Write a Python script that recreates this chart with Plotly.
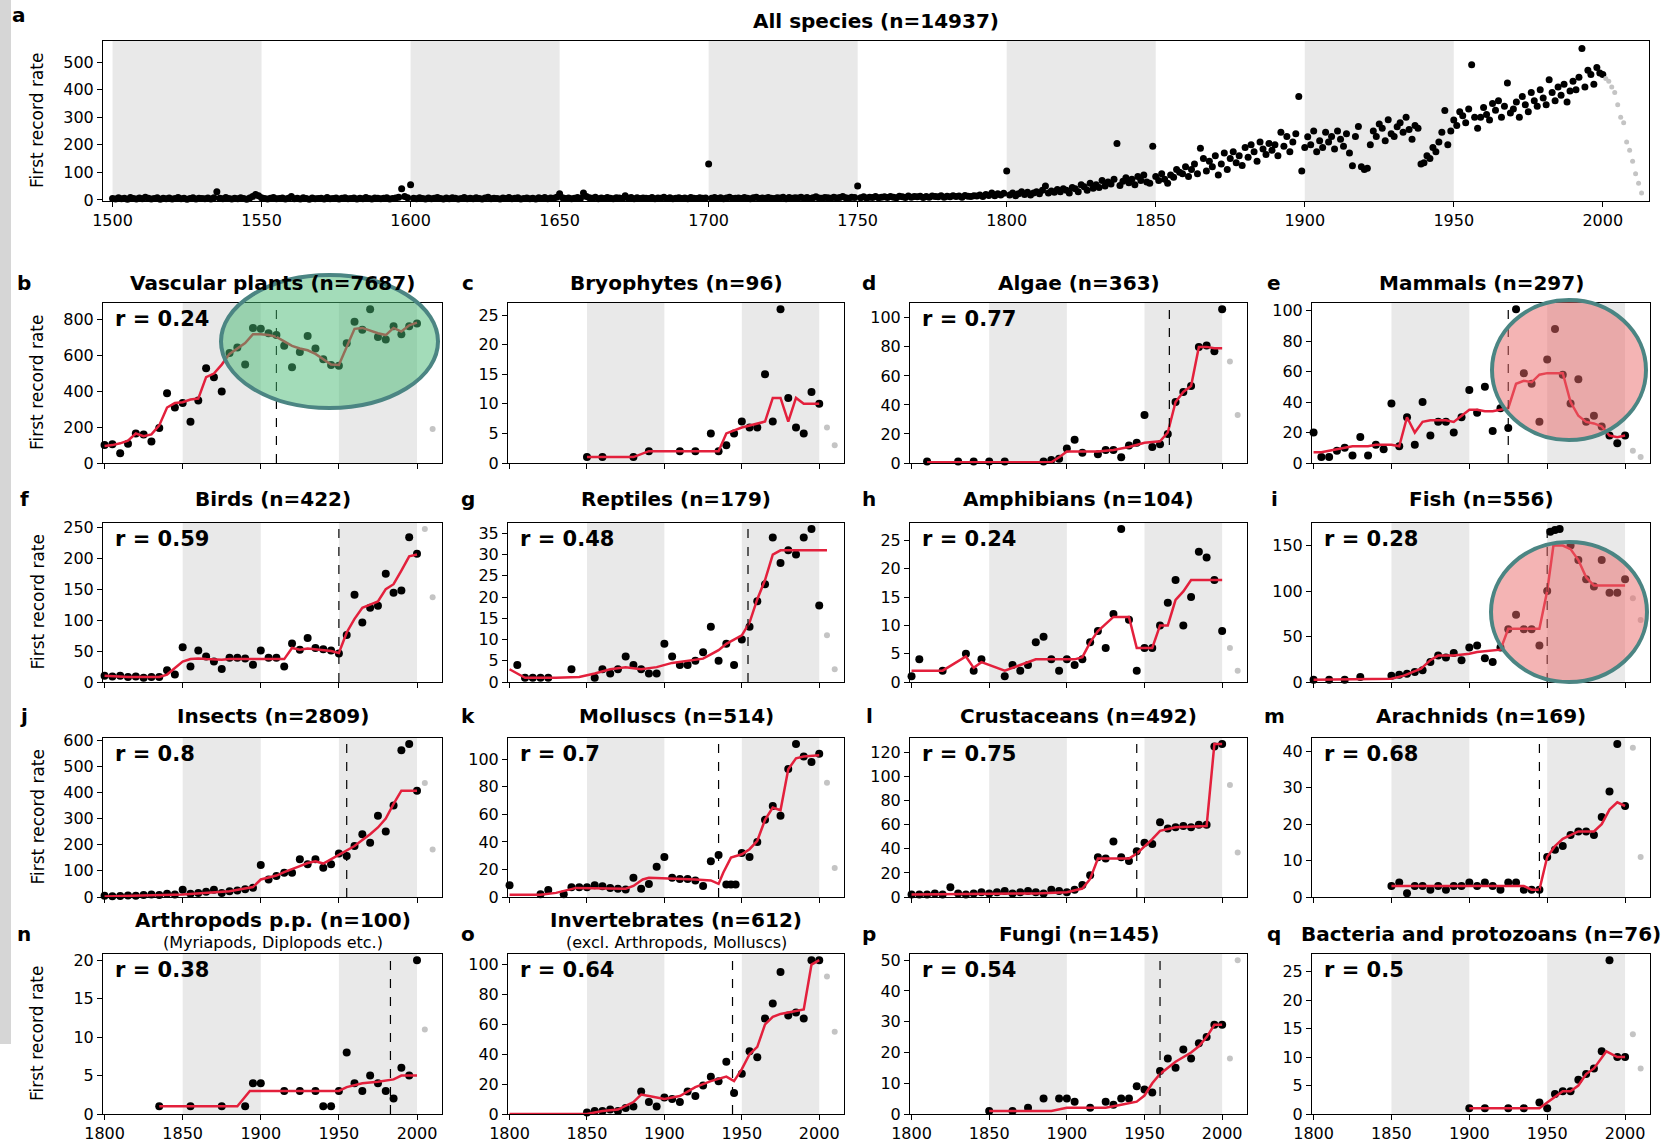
import plotly.graph_objects as go

# ======================= DATA =======================
# ---- a: All species (yearly first-record rate) ----
all_year = list(range(1500, 2001))
all_rate = (
    [5,3,8,4,6,2,9,5,3,7] + [4,10,6,3,5,8,2,6,4,7] + [3,5,9,4,6,2,5,8,3,6] +
    [5,4,7,3,8,30,6,4,9,5] + [3,6,4,8,5,2,7,12,20,15] + [8,5,3,6,9,4,5,7,3,6] +
    [12,4,6,3,8,5,2,7,4,5] + [6,3,9,4,5,7,3,6,8,4] + [5,7,3,6,4,9,5,3,7,6] +
    [4,6,8,3,5,7,10,40,12,8] + [55,6,4,8,5,3,7,4,6,9] + [5,3,7,4,8,6,3,5,9,4] +
    [6,4,8,5,3,7,10,4,6,5] + [3,7,5,9,4,6,8,3,5,7] + [4,6,3,8,5,9,4,7,6,10] +
    [22,8,5,7,4,6,9,5,25,12] + [8,6,10,4,7,5,9,6,4,8] + [7,5,15,6,9,4,8,5,7,6] +
    [5,9,4,7,6,10,5,8,4,6] + [8,5,7,4,9,6,5,8,6,7] + [130,6,9,5,8,4,7,10,5,6] +
    [7,5,9,6,4,8,10,5,7,6] + [9,6,5,8,7,10,4,9,6,8] + [7,10,6,9,5,8,11,7,6,9] +
    [8,6,10,7,9,12,8,6,10,9] + [50,8,11,7,10,9,12,8,10,11] + [9,12,10,8,13,11,9,14,10,12] +
    [11,13,9,12,10,14,12,11,15,10] + [13,11,15,12,14,10,16,13,12,15] + [14,18,12,20,16,25,15,22,18,24] +
    [105,18,25,15,22,30,20,28,18,25] + [30,22,35,50,25,32,28,38,30,40] +
    [35,25,45,40,30,55,48,35,60,42] + [55,45,70,50,65,58,75,205,52,68] +
    [80,62,75,55,85,70,90,65,60,195] + [85,70,95,75,60,90,82,110,100,95] +
    [120,85,110,130,95,187,150,105,140,120] + [160,90,130,170,110,150,175,135,160,125] +
    [190,155,200,175,140,210,185,165,205,180] + [200,160,245,195,230,175,210,240,375,105] +
    [190,229,200,250,175,215,190,245,210,230] + [185,250,220,195,240,170,124,230,266,120] +
    [110,115,200,250,230,275,260,215,291,240] + [230,265,280,245,300,255,220,270,260,130] +
    [135,160,150,190,175,210,245,324,200,250] + [290,270,320,305,280,330,490,300,260,300] +
    [335,310,290,350,325,360,300,340,424,315] + [330,355,300,375,345,320,390,360,340,400] +
    [370,345,436,390,360,410,380,420,355,395] + [430,400,445,549,410,470,455,420,480,460] +
    [455]
)
all_late_year = list(range(2001, 2014))
all_late_rate = [440, 430, 410, 390, 345, 300, 280, 210, 180, 140, 95, 60, 25]

# ---- b: Vascular plants ----
vasc_year = [1800,1805,1810,1815,1820,1825,1830,1835,1840,1845,1850,1855,1860,1865,1870,1875,1880,1885,1890,1895,
             1900,1905,1910,1915,1920,1925,1930,1935,1940,1945,1950,1955,1960,1965,1970,1975,1980,1985,1990,1995,2000]
vasc_rate = [100,105,55,108,165,160,120,195,390,310,335,230,350,530,480,400,615,645,550,755,
             750,725,715,655,535,620,710,640,580,548,543,670,790,745,860,705,690,765,720,765,780]
vasc_late_year = [2010]
vasc_late_rate = [190]
vasc_fit_year = vasc_year
vasc_fit_rate = [95,100,110,125,165,150,160,210,310,335,340,355,360,480,500,550,610,640,670,720,
                 720,715,705,680,655,640,630,610,580,550,548,650,750,755,740,725,715,755,735,770,785]

# ---- c: Bryophytes ----
bryo_year = [1850,1860,1880,1890,1910,1920,1930,1935,1940,1945,1950,1955,1960,1965,1970,1975,1980,1985,1990,1995,2000]
bryo_rate = [1,1,1,2,2,2,5,2,3,5,7,6,6,15,7,26,11,6,5,12,10]
bryo_late_year = [2005, 2010]
bryo_late_rate = [6, 3]
bryo_fit_year = [1850,1880,1890,1935,1940,1950,1965,1970,1975,1980,1985,1990,2000]
bryo_fit_rate = [1,1,2,2,5,6,7,11,11,7,11,10,10]

# ---- d: Algae ----
alga_year = [1810,1830,1840,1850,1860,1885,1890,1895,1900,1905,1910,1920,1925,1930,1935,1940,1945,1950,1955,1960,
             1965,1970,1975,1980,1985,1990,1995,2000]
alga_rate = [1,1,1,1,1,1,2,3,10,16,7,6,9,9,4,12,14,33,11,13,20,42,49,53,80,81,77,106]
alga_late_year = [2005, 2010]
alga_late_rate = [70, 33]
alga_fit_year = [1810,1890,1895,1900,1920,1930,1940,1950,1960,1965,1970,1975,1980,1985,1990,1995,2000]
alga_fit_rate = [0.5,0.5,4,8,8,9,11,14,15,21,42,49,53,80,80,79,79]

# ---- e: Mammals ----
mamm_year = list(range(1800, 2001, 5))
mamm_rate = [20,4,4,8,10,5,17,5,12,9,39,11,30,12,40,18,27,27,20,30,48,33,50,21,36,23,101,59,52,27,68,88,58,39,55,27,31,24,18,13,18]
mamm_late_year = [2005, 2010]
mamm_late_rate = [8, 4]
mamm_fit_year = list(range(1800, 2001, 5))
mamm_fit_rate = [7,7,8,9,10,11,11,11,12,12,12,11,30,20,27,28,28,28,27,31,35,35,34,34,35,36,52,54,53,58,59,59,59,40,31,27,26,24,18,17,18]

# ---- f: Birds ----
bird_year = list(range(1800, 2001, 5))
bird_rate = [10,9,10,8,9,7,8,8,19,12,56,25,51,41,33,21,39,39,38,28,51,39,39,25,62,52,71,55,53,51,46,76,141,96,120,123,175,144,148,234,207]
bird_late_year = [2005, 2010]
bird_late_rate = [247, 137]
bird_fit_year = list(range(1800, 2001, 5))
bird_fit_rate = [10,9,9,8,8,8,8,8,12,22,33,37,38,37,36,36,37,37,37,37,38,38,37,37,55,52,54,53,52,50,47,80,102,120,125,130,150,158,180,203,206]

# ---- g: Reptiles ----
rept_year = [1805,1810,1815,1820,1825,1840] + list(range(1855, 2001, 5))
rept_rate = [4,1,1,1,1,3, 1,3,2,3,6,4,3,2,2,9,6,4,4,5,7,13,5,9,4,10,13,19,23,34,28,31,30,34,36,18]
rept_late_year = [2005, 2010]
rept_late_rate = [11, 3]
rept_fit_year = [1800,1805,1810,1820,1830,1845,1855,1865,1875,1885,1895,1905,1915,1925,1930,1935,1940,1945,1950,1955,1960,1965,1970,1975,1980,1990,2005]
rept_fit_rate = [3,2,1,1,1,1.2,2,3,3.5,3,3.5,4.5,5,5.5,6.5,7.5,9,10,11,14,19.5,24,30,31,31,31,31]

# ---- h: Amphibians ----
amph_year = [1800,1805,1820,1835,1840,1845] + list(range(1860, 2001, 5))
amph_rate = [1,4,2,5,2,4, 1,3,2,3,7,8,4,2,4,3,4,7,9,6,12,27,11,2,6,6,10,14,18,10,15,23,22,18,9]
amph_late_year = [2005, 2010]
amph_late_rate = [6, 2]
amph_fit_year = [1800,1820,1835,1840,1845,1860,1870,1880,1905,1910,1915,1920,1930,1940,1945,1955,1960,1965,1970,1975,1980,2000]
amph_fit_rate = [2,2,4.5,2.5,3.5,2,3,4,4,4.4,7,9,11.5,11.5,6,6,10,10,14.5,16,18,18]

# ---- i: Fish ----
fish_year = [1800,1810,1820,1830,1850,1855,1860,1865,1870,1875,1880,1885,1890,1895,1900,1905,1910,1915,1920,1925,
             1930,1935,1940,1945,1950,1952,1955,1958,1965,1970,1975,1980,1985,1990,1995,2000]
fish_rate = [2.5,2.5,2.5,5.5,7,8,9,11,13,22,29,27,32,24,38,40,26,22,38,58,74,58,58,40,100,165,167,168,150,134,113,105,134,98,98,113]
fish_late_year = [2005, 2010]
fish_late_rate = [92, 68]
fish_fit_year = [1800,1850,1858,1869,1875,1880,1890,1900,1905,1915,1920,1925,1945,1950,1954,1960,1965,1970,1975,1980,2000]
fish_fit_rate = [2.5,3.7,7,14.6,24,29,29,31,33,35,35.5,58.5,58.5,100,150,150,146,134,115,106,106]

# ---- j: Insects ----
inse_year = list(range(1800, 2001, 5))
inse_rate = [5,3,4,6,5,8,10,8,12,10,28,12,15,20,28,15,22,25,30,35,122,67,80,93,93,144,125,144,112,125,166,157,195,240,208,311,251,350,562,585,407]
inse_late_year = [2005, 2010]
inse_late_rate = [436, 182]
inse_fit_year = [1800,1850,1880,1895,1900,1905,1910,1915,1920,1925,1930,1935,1940,1945,1950,1955,1960,1965,1970,1975,1980,1985,1990,1995,2000]
inse_fit_rate = [2,10,22,38,67,75,82,95,105,118,130,137,128,144,160,176,195,218,240,266,300,356,407,407,407]

# ---- k: Molluscs ----
moll_year = [1800,1820,1825,1835] + list(range(1840, 1936, 5)) + [1940,1943,1946] + list(range(1950, 2001, 5))
moll_rate = [8.6,2,5,2, 7,7,7,8.6,7.8,6.6,6,5.4,14,6,9.5,22,29,14,13,13,12,8,26,30.5, 9,9,9, 32,29,40,56,66,59,93,111,102,98,104]
moll_late_year = [2005, 2010]
moll_late_rate = [83, 21]
moll_fit_year = [1800,1820,1830,1843,1875,1880,1886,1890,1920,1930,1935,1938,1943,1950,1955,1960,1965,1970,1975,1980,1985,1990,2000]
moll_fit_rate = [1.7,1.7,3,6.6,6,8,12.7,14,12.7,12,9.5,17.6,28.6,31,34.7,40.8,56,65,63,92.7,100.7,102,103]

# ---- l: Crustaceans ----
crus_year = list(range(1800, 2001, 5))
crus_rate = [2,2,2,3,2,8,3,2,3,4,3,4,5,3,4,5,4,3,6,5,4,6,10,18,33,32,46,33,30,38,45,44,62,57,58,59,58,60,60,125,127]
crus_late_year = [2005, 2010]
crus_late_rate = [93, 37]
crus_fit_year = [1800,1880,1900,1910,1915,1920,1940,1945,1950,1955,1960,1970,1990,1995,2000]
crus_fit_rate = [2,3,4,7,15,32,32,36,42,48,55,58,59,127,127]

# ---- m: Arachnids ----
arac_year = list(range(1850, 2001, 5))
arac_rate = [3,4,1,3,3,2,3,2,3,3,4,3,4,3,2,4,4,2,2,2, 11,13,14,17,18,18,17,22,29,42,25]
arac_late_year = [2005, 2010]
arac_late_rate = [41, 11]
arac_fit_year = [1850,1900,1935,1940,1945,1950,1955,1960,1965,1970,1980,1985,1990,1995,2000]
arac_fit_rate = [3,3,3,2,2,11,14,16,17,18,18,20,24,26,25]

# ---- n: Arthropods p.p. ----
arth_year = [1835,1855,1875,1890,1895,1900,1915,1925,1935,1940,1945,1950,1955,1960,1965,1970,1975,1980,1985,1990,1995,2000]
arth_rate = [1,1,1,1,4,4,3,3,3,1,1,3,8,4,3,5,4,3,2,6,5,20]
arth_late_year = [2005]
arth_late_rate = [11]
arth_fit_year = [1835,1885,1893,1950,1955,1965,1975,1985,1990,2000]
arth_fit_rate = [1,1,3,3,3.5,4,4.2,4.5,5,5]

# ---- o: Invertebrates ----
inve_year = list(range(1850, 2001, 5))
inve_rate = [1,2,2,3,2,4,5,15,8,5,11,10,8,15,12,19,25,22,35,14,27,42,38,64,74,95,66,68,64,103,103]
inve_late_year = [2005, 2010]
inve_late_rate = [92, 55]
inve_fit_year = [1800,1850,1860,1870,1880,1885,1890,1900,1910,1920,1930,1940,1945,1950,1955,1960,1965,1970,1975,1980,1990,1995,2000]
inve_fit_rate = [0,0,2,3,8,13,12,10,12,18,22,25,22,30,40,45,60,65,67,68,70,100,103]

# ---- p: Fungi ----
fung_year = [1850,1865,1875,1885,1895,1900,1905,1915,1925,1930,1935,1940,1945,1950,1955,1960,1965,1970,1975,1980,1985,1990,1995,2000]
fung_rate = [1,1,2,5,5,5,4,2,4,3,5,5,9,8,7,14,18,15,21,18,23,25,29,29]
fung_late_year = [2005, 2010]
fung_late_rate = [18, 50]
fung_fit_year = [1850,1890,1900,1925,1935,1945,1950,1955,1960,1965,1970,1980,1985,1990,1995,2000]
fung_fit_rate = [1,1,2,2,3,4,6,10,13,15,17,20,22,25,29,29]

# ---- q: Bacteria and protozoans ----
bact_year = [1900,1910,1925,1935,1945,1950,1955,1960,1965,1970,1975,1980,1985,1990,1995,2000]
bact_rate = [1,1,1,1,2,1,3.5,4,4,6,7,8,11,27,10,10]
bact_late_year = [2005, 2010]
bact_late_rate = [14, 8]
bact_fit_year = [1900,1945,1950,1955,1960,1965,1970,1975,1980,1988,1995,2000]
bact_fit_rate = [1,1,2,3,4,4,5,7,8,11,10,10]

# ======================= LAYOUT =======================
W, H = 1679, 1144
FONT = "DejaVu Sans"
RED = "#e3203c"
BAND = "#e9e9e9"

def fx(px):
    return px / W

def fy(px):
    return 1 - px / H

cols = [(103, 442), (508, 844), (910, 1247), (1312, 1650)]
rows = [(303, 463), (523, 682), (738, 897), (954, 1114)]
letter_x = [24, 468, 869, 1274]
title_y = [283, 499, 716, 934]

panels = [
    ("b", "Vascular plants (n=7687)", None, "0.24", 1910, 200, vasc_year, vasc_rate, vasc_late_year, vasc_late_rate, vasc_fit_year, vasc_fit_rate),
    ("c", "Bryophytes (n=96)", None, None, None, 5, bryo_year, bryo_rate, bryo_late_year, bryo_late_rate, bryo_fit_year, bryo_fit_rate),
    ("d", "Algae (n=363)", None, "0.77", 1966, 20, alga_year, alga_rate, alga_late_year, alga_late_rate, alga_fit_year, alga_fit_rate),
    ("e", "Mammals (n=297)", None, None, 1925, 20, mamm_year, mamm_rate, mamm_late_year, mamm_late_rate, mamm_fit_year, mamm_fit_rate),
    ("f", "Birds (n=422)", None, "0.59", 1950, 50, bird_year, bird_rate, bird_late_year, bird_late_rate, bird_fit_year, bird_fit_rate),
    ("g", "Reptiles (n=179)", None, "0.48", 1954, 5, rept_year, rept_rate, rept_late_year, rept_late_rate, rept_fit_year, rept_fit_rate),
    ("h", "Amphibians (n=104)", None, "0.24", None, 5, amph_year, amph_rate, amph_late_year, amph_late_rate, amph_fit_year, amph_fit_rate),
    ("i", "Fish (n=556)", None, "0.28", 1950, 50, fish_year, fish_rate, fish_late_year, fish_late_rate, fish_fit_year, fish_fit_rate),
    ("j", "Insects (n=2809)", None, "0.8", 1955, 100, inse_year, inse_rate, inse_late_year, inse_late_rate, inse_fit_year, inse_fit_rate),
    ("k", "Molluscs (n=514)", None, "0.7", 1935, 20, moll_year, moll_rate, moll_late_year, moll_late_rate, moll_fit_year, moll_fit_rate),
    ("l", "Crustaceans (n=492)", None, "0.75", 1945, 20, crus_year, crus_rate, crus_late_year, crus_late_rate, crus_fit_year, crus_fit_rate),
    ("m", "Arachnids (n=169)", None, "0.68", 1945, 10, arac_year, arac_rate, arac_late_year, arac_late_rate, arac_fit_year, arac_fit_rate),
    ("n", "Arthropods p.p. (n=100)", "(Myriapods, Diplopods etc.)", "0.38", 1983, 5, arth_year, arth_rate, arth_late_year, arth_late_rate, arth_fit_year, arth_fit_rate),
    ("o", "Invertebrates (n=612)", "(excl. Arthropods, Molluscs)", "0.64", 1944, 20, inve_year, inve_rate, inve_late_year, inve_late_rate, inve_fit_year, inve_fit_rate),
    ("p", "Fungi (n=145)", None, "0.54", 1960, 10, fung_year, fung_rate, fung_late_year, fung_late_rate, fung_fit_year, fung_fit_rate),
    ("q", "Bacteria and protozoans (n=76)", None, "0.5", None, 5, bact_year, bact_rate, bact_late_year, bact_late_rate, bact_fit_year, bact_fit_rate),
]

fig = go.Figure()
layout = dict(
    width=W, height=H, margin=dict(l=0, r=0, t=0, b=0),
    paper_bgcolor="white", plot_bgcolor="white", showlegend=False,
    font=dict(family=FONT, color="black"),
)
shapes = []
annotations = []


def note(text, xpx, ypx, size, xanchor="center", angle=0):
    annotations.append(dict(text=text, x=fx(xpx), y=fy(ypx), xref="paper", yref="paper",
                            xanchor=xanchor, yanchor="middle", showarrow=False, textangle=angle,
                            font=dict(family=FONT, size=size, color="black")))


def axis_common():
    return dict(showline=True, mirror=True, linecolor="black", linewidth=1,
                ticks="outside", ticklen=5, tickcolor="black", tickwidth=1,
                showgrid=False, zeroline=False, automargin=False,
                tickfont=dict(family=FONT, size=16, color="black"))

# ---- panel a ----
ax = axis_common()
ax.update(domain=[fx(103), fx(1649)], anchor="y", range=[1496.8, 2015.5],
          tickvals=list(range(1500, 2001, 50)))
layout["xaxis"] = ax
ay = axis_common()
ymax_a = max(all_rate + all_late_rate)
ay.update(domain=[fy(201), fy(41)], anchor="x", range=[-4, ymax_a * 1.05], dtick=100)
layout["yaxis"] = ay
for s in range(1500, 2000, 100):
    shapes.append(dict(type="rect", xref="x", yref="y domain", x0=s, x1=s + 50, y0=0, y1=1,
                       fillcolor=BAND, line=dict(width=0), layer="below"))
fig.add_trace(go.Scatter(x=all_year, y=all_rate, xaxis="x", yaxis="y", mode="markers",
                         marker=dict(color="black", size=7), cliponaxis=False, hoverinfo="skip"))
fig.add_trace(go.Scatter(x=all_late_year, y=all_late_rate, xaxis="x", yaxis="y", mode="markers",
                         marker=dict(color="#c4c4c4", size=5), cliponaxis=False, hoverinfo="skip"))
note("<b>All species (n=14937)</b>", (103 + 1649) / 2, 21, 20)
note("<b>a</b>", 19, 15, 20)
note("First record rate", 37, 121, 17, angle=-90)

# ---- small panels ----
for i, p in enumerate(panels):
    letter, title, sub, rtxt, vline, dtick, yr, rate, lyr, lrate, fyr, frate = p
    n = i + 2
    r, c = divmod(i, 4)
    L, R = cols[c]
    T, B = rows[r]
    xa = axis_common()
    xa.update(domain=[fx(L), fx(R)], anchor=f"y{n}", range=[1799, 2016],
              tickvals=list(range(1800, 2001, 50)), showticklabels=(r == 3))
    ya = axis_common()
    ymax = max(rate + lrate)
    ya.update(domain=[fy(B), fy(T)], anchor=f"x{n}", range=[0, ymax * 1.04], dtick=dtick)
    layout[f"xaxis{n}"] = xa
    layout[f"yaxis{n}"] = ya
    for s in (1850, 1950):
        shapes.append(dict(type="rect", xref=f"x{n}", yref=f"y{n} domain", x0=s, x1=s + 50, y0=0, y1=1,
                           fillcolor=BAND, line=dict(width=0), layer="below"))
    if vline is not None:
        shapes.append(dict(type="line", xref=f"x{n}", yref=f"y{n} domain", x0=vline, x1=vline, y0=0, y1=1,
                           line=dict(color="black", width=1.2, dash="dash"), layer="above"))
    fig.add_trace(go.Scatter(x=yr, y=rate, xaxis=f"x{n}", yaxis=f"y{n}", mode="markers",
                             marker=dict(color="black", size=8), cliponaxis=False, hoverinfo="skip"))
    fig.add_trace(go.Scatter(x=lyr, y=lrate, xaxis=f"x{n}", yaxis=f"y{n}", mode="markers",
                             marker=dict(color="#c4c4c4", size=6), cliponaxis=False, hoverinfo="skip"))
    fig.add_trace(go.Scatter(x=fyr, y=frate, xaxis=f"x{n}", yaxis=f"y{n}", mode="lines",
                             line=dict(color=RED, width=2.5), cliponaxis=False, hoverinfo="skip"))
    ty = title_y[r] - (14 if sub else 0)
    note(f"<b>{title}</b>", (L + R) / 2, ty, 20)
    if sub:
        note(sub, (L + R) / 2, ty + 22, 16)
    note(f"<b>{letter}</b>", letter_x[c], title_y[r], 20)
    if rtxt:
        note(f"<b>r = {rtxt}</b>", L + 10, T + 16, 21, xanchor="left")
    if c == 0:
        note("First record rate", 37, (T + B) / 2, 17, angle=-90)

# left grey strip of the scan
shapes.append(dict(type="rect", xref="paper", yref="paper", x0=0, x1=fx(11), y0=fy(1044), y1=1,
                   fillcolor="#d6d6d6", line=dict(width=0), layer="below"))

# highlight ellipses
TEAL = "#4b8583"
shapes.append(dict(type="circle", xref="paper", yref="paper", x0=fx(221), x1=fx(438), y0=fy(408), y1=fy(275),
                   fillcolor="rgba(71,185,115,0.5)", line=dict(color=TEAL, width=4), layer="above"))
shapes.append(dict(type="circle", xref="paper", yref="paper", x0=fx(1492), x1=fx(1646), y0=fy(440), y1=fy(300),
                   fillcolor="rgba(233,105,105,0.5)", line=dict(color=TEAL, width=4), layer="above"))
shapes.append(dict(type="circle", xref="paper", yref="paper", x0=fx(1491), x1=fx(1647), y0=fy(682), y1=fy(542),
                   fillcolor="rgba(233,105,105,0.5)", line=dict(color=TEAL, width=4), layer="above"))

layout["shapes"] = shapes
layout["annotations"] = annotations
fig.update_layout(**layout)
fig.write_html("out.html")
